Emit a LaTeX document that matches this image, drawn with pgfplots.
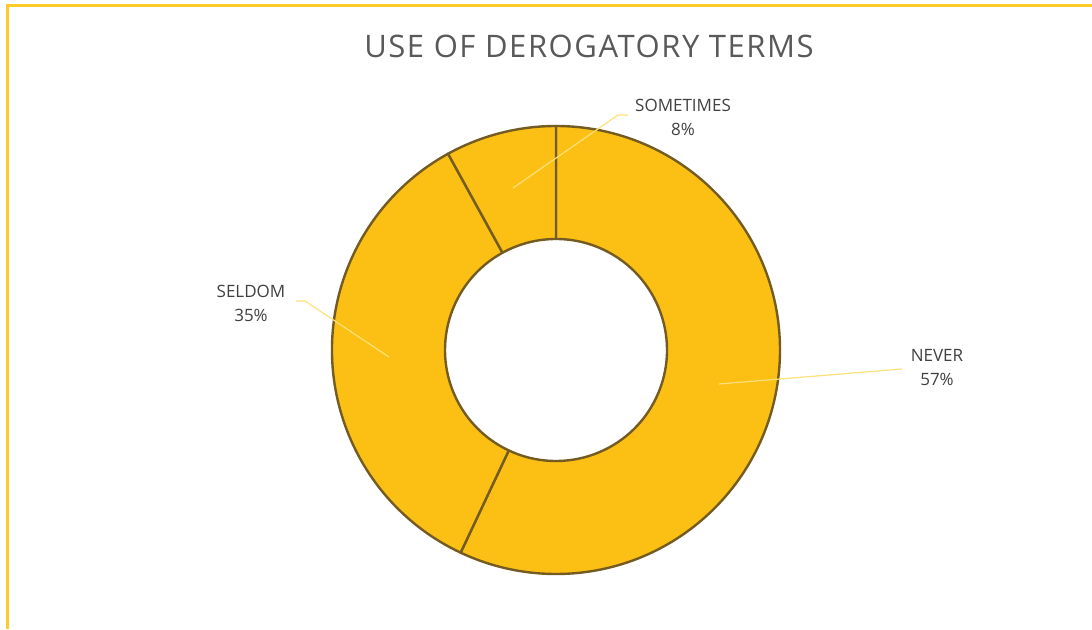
\documentclass[border=0pt]{standalone}
\usepackage{pgfplots}
\pgfplotsset{compat=1.18}
\usepackage{pgfplotstable}
\usetikzlibrary{calc}
\usepackage{fontspec}
\setmainfont{Open Sans}
\definecolor{donutfill}{HTML}{FBC013}
\definecolor{donutedge}{HTML}{735B22}
\definecolor{leader}{HTML}{FFE07A}
\definecolor{frameyellow}{HTML}{FFCC2A}
\definecolor{titlegray}{HTML}{595959}
\definecolor{labelgray}{HTML}{404040}

\pgfplotstableread{
label pct
NEVER 57
SELDOM 35
SOMETIMES 8
}\donutdata

\newcommand{\donutwedge}[2]{%
  \filldraw[fill=donutfill, draw=donutedge, line width=2.4pt, line join=round]
    ($(axis cs:556,279)+(#1:224pt)$) arc[start angle=#1, end angle=#2, radius=224pt]
    -- ($(axis cs:556,279)+(#2:111pt)$) arc[start angle=#2, end angle=#1, radius=111pt]
    -- cycle;}

\begin{document}
\begin{tikzpicture}
\pgfplotstablegetelem{0}{pct}\of\donutdata \pgfmathsetmacro\va{\pgfplotsretval}
\pgfplotstablegetelem{1}{pct}\of\donutdata \pgfmathsetmacro\vb{\pgfplotsretval}
\pgfplotstablegetelem{2}{pct}\of\donutdata \pgfmathsetmacro\vc{\pgfplotsretval}
\pgfmathsetmacro\tot{\va+\vb+\vc}
\pgfmathsetmacro\aA{90}
\pgfmathsetmacro\aB{90-360*(\va/\tot)}
\pgfmathsetmacro\aC{\aB-360*(\vb/\tot)}
\pgfmathsetmacro\aD{\aC-360*(\vc/\tot)}
\begin{axis}[
  scale only axis, width=1092pt, height=629pt,
  xmin=0, xmax=1092, ymin=0, ymax=629,
  hide axis, clip=false,
]
% frame
\draw[frameyellow, line width=3pt] (axis cs:7.5,0) -- (axis cs:7.5,623) -- (axis cs:1092,623);
% title
\node[text=titlegray, font=\fontsize{31}{36}\selectfont\addfontfeature{LetterSpace=5}] at (axis cs:589,583) {USE OF DEROGATORY TERMS};
% donut
\donutwedge{\aA}{\aB}
\donutwedge{\aB}{\aC}
\donutwedge{\aC}{\aD}
% leader lines
\draw[leader, line width=1.2pt] (axis cs:719,245) -- (axis cs:902,260);
\draw[leader, line width=1.2pt] (axis cs:389,272) -- (axis cs:305,328) -- (axis cs:296,328);
\draw[leader, line width=1.2pt] (axis cs:513,441) -- (axis cs:618,514) -- (axis cs:628,514);
% labels
\node[text=labelgray, font=\fontsize{17}{24}\selectfont, align=center] at (axis cs:937,261) {NEVER\\57\%};
\node[text=labelgray, font=\fontsize{17}{24}\selectfont, align=center] at (axis cs:251,326) {SELDOM\\35\%};
\node[text=labelgray, font=\fontsize{17}{24}\selectfont, align=center] at (axis cs:683,512) {SOMETIMES\\8\%};
\end{axis}
\pgfresetboundingbox
\path[use as bounding box] (current axis.south west) rectangle (current axis.north east);
\end{tikzpicture}
\end{document}
